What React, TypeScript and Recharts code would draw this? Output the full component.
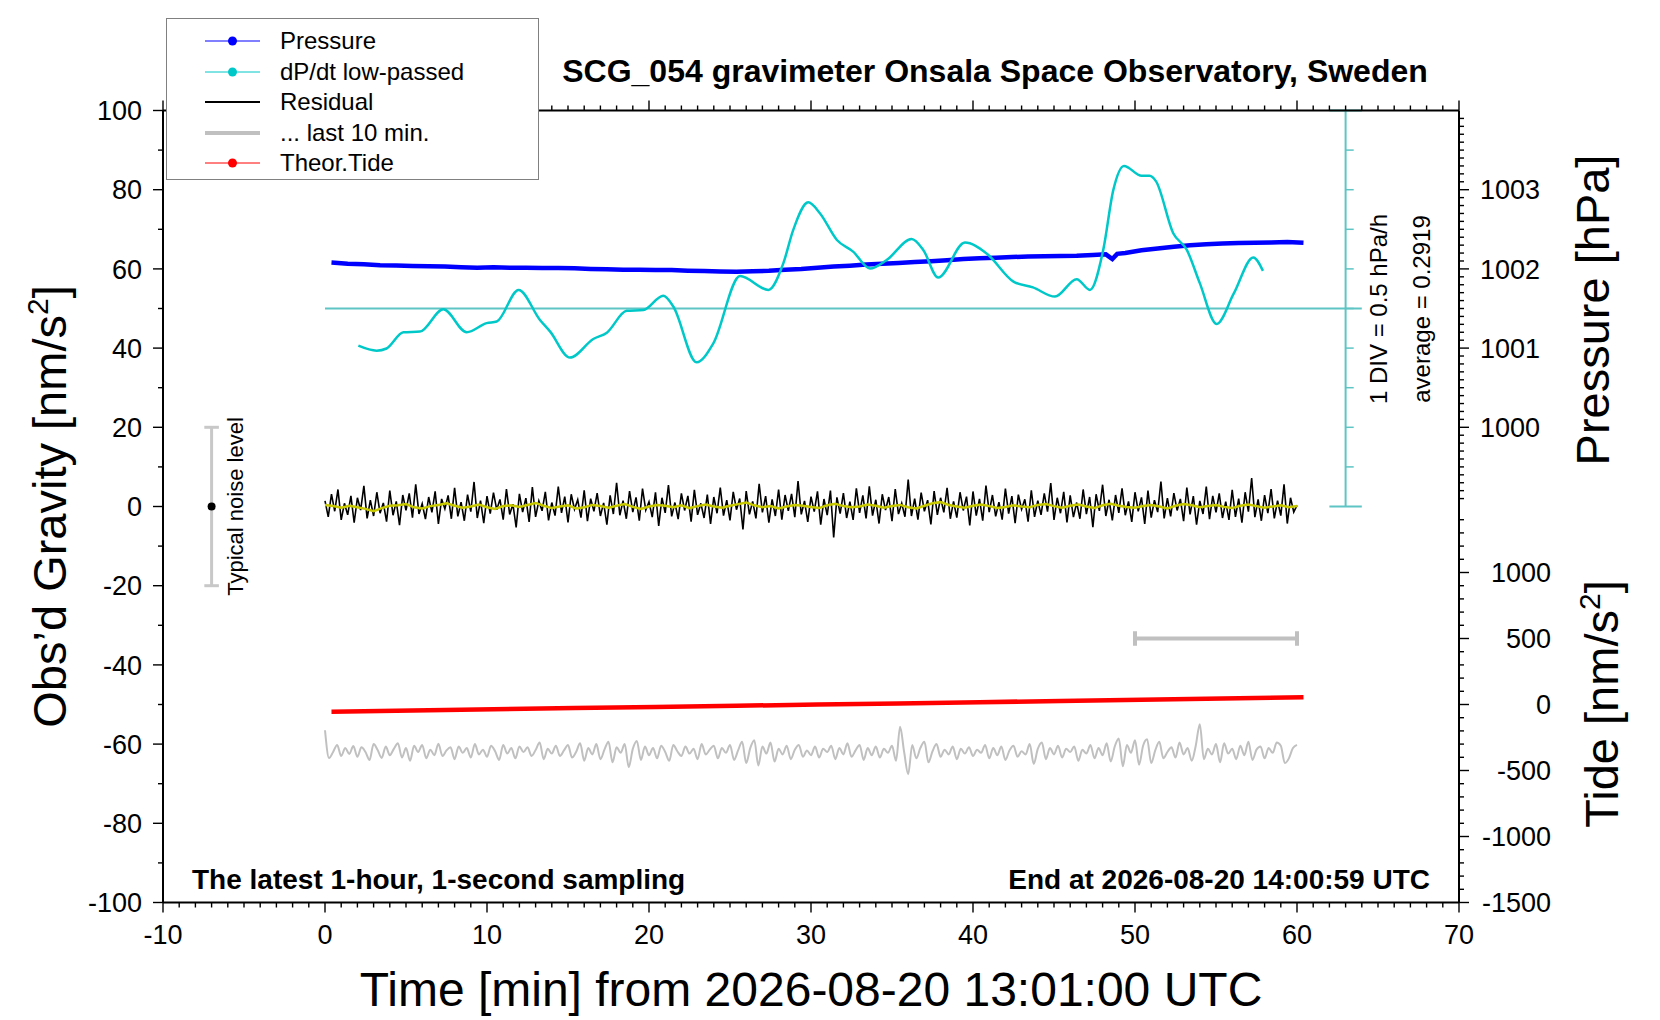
import { ComposedChart, Line, XAxis, YAxis, ReferenceLine, ReferenceDot, Legend } from "recharts";

const FONT = '"Liberation Sans", Arial, Helvetica, sans-serif';

// residual, one value every 0.2 min (nm/s^2)
const residualStepMin = 0.2;
const residual = [
  1.4, -2.6, 3.1, -1.2, 4.3, -3.4, 0.8, -2.1, 2.7, -4.1,
  2.2, -0.9, 5.2, -3.0, 1.6, -2.4, 3.6, -1.7, 0.9, -3.8,
  4.0, -2.2, 1.3, -4.7, 2.9, -1.0, 3.3, -2.8, 5.6, -1.9,
  0.7, -3.2, 2.4, -1.5, 3.8, -4.4, 1.9, -0.6, 2.8, -3.1,
  4.7, -2.5, 1.1, -3.6, 3.0, -1.3, 6.2, -2.9, 1.5, -4.2,
  2.6, -1.8, 3.5, -0.8, 1.8, -3.3, 4.4, -2.0, 0.6, -5.3,
  3.2, -1.4, 2.1, -3.9, 4.9, -2.6, 1.4, -1.1, 3.7, -3.5,
  1.0, -2.3, 5.0, -1.6, 2.5, -4.0, 3.1, -0.7, 1.7, -2.8,
  4.1, -3.7, 2.0, -1.2, 3.4, -2.4, 0.9, -4.6, 2.8, -1.9,
  6.0, -2.2, 1.5, -3.1, 3.9, -1.4, 2.3, -3.6, 4.5, -0.9,
  1.2, -2.7, 3.6, -4.9, 2.2, -1.6, 5.4, -2.5, 1.0, -3.2,
  3.3, -1.0, 2.7, -3.8, 4.2, -2.1, 0.8, -2.9, 3.0, -4.4,
  2.4, -1.7, 4.8, -2.3, 1.6, -3.5, 3.7, -0.8, 2.0, -5.8,
  3.9, -2.0, 1.3, -3.0, 5.7, -1.5, 2.6, -4.1, 1.8, -2.4,
  4.3, -3.3, 2.9, -1.1, 3.2, -2.7, 6.4, -2.0, 1.4, -3.9,
  2.5, -1.3, 3.8, -4.6, 1.9, -2.2, 4.0, -7.8, 2.3, -1.8,
  3.4, -2.9, 1.2, -3.4, 4.6, -1.6, 2.8, -3.0, 5.1, -2.3,
  1.7, -4.3, 3.1, -0.9, 2.4, -3.7, 4.4, -1.9, 0.8, -2.6,
  6.8, -2.4, 2.0, -3.3, 3.5, -1.2, 1.6, -4.5, 3.9, -2.1,
  2.2, -1.5, 4.7, -3.1, 1.3, -2.8, 3.6, -1.0, 2.5, -4.8,
  3.8, -2.3, 1.9, -3.6, 5.3, -1.4, 2.9, -2.5, 1.1, -3.3,
  4.5, -1.8, 2.6, -4.2, 3.0, -0.7, 1.8, -3.8, 4.1, -2.6,
  1.5, -2.1, 3.3, -1.3, 5.9, -3.4, 2.2, -1.7, 3.7, -4.0,
  2.8, -2.7, 1.0, -3.1, 4.3, -1.9, 2.4, -5.2, 3.1, -1.1,
  5.5, -2.4, 1.7, -3.5, 2.9, -1.6, 4.6, -2.2, 1.3, -3.9,
  3.6, -1.2, 2.3, -4.4, 4.0, -2.8, 1.6, -1.4, 6.3, -3.0,
  2.1, -2.5, 3.4, -1.0, 1.9, -3.7, 4.8, -2.0, 2.6, -4.6,
  1.4, -1.9, 5.0, -3.2, 2.7, -1.5, 3.3, -2.9, 1.2, -3.4,
  4.2, -2.6, 2.0, -4.1, 3.6, -1.3, 7.2, -2.7, 1.8, -3.6,
  2.9, -1.7, 4.4, -3.0, 1.5, -2.3, 5.6, -4.3, 2.2, -1.4,
  0.3,
];

// smoothed residual (yellow), every 0.5 min
const smoothStepMin = 0.5;
const residualSmooth = [
  0.4, 0.1, -0.3, 0.2, -0.2, -0.6, -1.2, -0.4, 0.2, 0.3,
  0.6, -0.2, -0.5, 0.1, 0.4, 0.8, 0.2, -0.3, 0.0, 0.5,
  -0.2, -0.6, 0.1, 0.3, -0.1, 0.4, 0.9, 0.2, -0.4, 0.0,
  0.3, -0.5, -0.2, 0.4, 0.1, -0.3, 0.2, 0.6, -0.1, -0.6,
  0.0, 0.4, 0.2, -0.2, 0.3, -0.4, 0.1, 0.5, 0.0, -0.3,
  0.2, 0.6, 1.0, 0.3, -0.2, 0.1, -0.5, 0.0, 0.4, 0.2,
  -0.1, -0.4, 0.3, 0.7, 0.1, -0.2, 0.0, 0.5, 0.2, -0.3,
  0.1, 0.4, -0.2, -0.5, 0.2, 0.8, 1.1, 0.4, 0.0, -0.3,
  0.2, 0.5, 0.1, -0.4, -0.1, 0.3, 0.0, -0.2, 0.4, 0.6,
  0.1, -0.3, 0.2, 0.5, 0.0, -0.4, 0.3, 0.7, 0.2, -0.1,
  -0.3, 0.1, 0.4, 0.0, -0.5, 0.2, 0.6, 0.3, -0.2, 0.1,
  0.4, -0.1, -0.4, 0.2, 0.5, 0.1, -0.3, 0.0, 0.3, -0.2,
  0.1,
];

// "... last 10 min." trace, every 0.25 min, drawn at -60 nm/s^2
const lastTenStepMin = 0.25;
const lastTen = [
  -56.5, -63.5, -62.0, -60.2, -63.0, -61.0, -62.5, -60.5, -63.2, -60.8, -62.0, -64.0, -60.0, -61.5, -63.5, -60.6, -62.8, -61.2, -59.8, -63.4,
  -61.0, -64.2, -60.4, -62.0, -60.2, -63.6, -61.4, -62.8, -59.9, -63.0, -61.6, -60.8, -63.8, -60.6, -62.2, -61.0, -63.4, -60.0, -62.6, -61.4,
  -63.2, -60.4, -61.8, -64.0, -60.2, -62.4, -61.0, -63.6, -60.6, -62.0, -60.8, -63.0, -61.5, -59.6, -63.8, -61.2, -62.4, -60.4, -63.0, -61.6,
  -60.2, -63.4, -62.0, -59.8, -64.2, -61.0, -62.6, -60.0, -63.8, -61.4, -59.4, -64.6, -60.8, -62.2, -60.0, -65.8, -61.2, -59.2, -64.0, -60.6,
  -62.8, -61.0, -63.6, -60.4, -62.0, -64.2, -60.2, -61.8, -63.0, -60.6, -62.4, -61.2, -63.8, -60.0, -62.6, -61.4, -60.4, -63.6, -61.0, -62.2,
  -60.2, -64.0, -61.6, -59.4, -64.8, -61.0, -59.0, -65.4, -60.6, -62.4, -59.6, -64.4, -61.2, -62.6, -60.4, -63.8, -61.4, -60.2, -63.2, -61.6,
  -62.8, -60.6, -63.4, -61.2, -62.0, -60.4, -63.8, -61.0, -62.6, -59.8, -63.2, -61.6, -60.2, -64.0, -61.0, -62.8, -60.6, -63.4, -61.2, -62.2,
  -60.4, -64.2, -55.6, -62.0, -67.6, -60.2, -63.6, -61.0, -59.4, -64.6, -61.8, -60.0, -63.2, -61.4, -62.6, -60.6, -63.8, -61.2, -62.4, -60.8,
  -63.0, -61.4, -62.2, -60.2, -63.6, -61.0, -62.8, -60.6, -64.0, -61.6, -60.4, -63.2, -61.8, -62.6, -60.0, -65.0, -61.2, -59.6, -63.8, -61.0,
  -62.6, -60.4, -63.4, -61.2, -62.0, -60.6, -64.2, -61.4, -62.4, -60.2, -63.6, -61.0, -62.8, -59.8, -64.4, -60.6, -58.6, -65.6, -60.2, -62.2,
  -59.0, -65.2, -60.4, -58.8, -64.8, -61.6, -59.4, -63.6, -62.0, -60.8, -63.4, -59.6, -62.6, -61.0, -64.2, -60.4, -55.0, -63.8, -61.2, -62.6,
  -60.0, -64.6, -59.8, -62.4, -61.2, -63.8, -60.4, -62.8, -59.4, -64.0, -61.4, -60.6, -63.6, -61.0, -62.2, -59.6, -60.4, -64.8, -63.6, -61.0,
  -60.2,
];

const pressureMin = [
  0.4, 1.4, 2.4, 3.4, 4.4, 5.4, 6.4, 7.4, 8.4, 9.4, 10.4, 11.4, 12.4, 13.4, 14.4, 15.4,
  16.4, 17.4, 18.4, 19.4, 20.4, 21.4, 22.4, 23.4, 24.4, 25.4, 26.4, 27.4, 28.4, 29.4, 30.4, 31.4,
  32.4, 33.4, 34.4, 35.4, 36.4, 37.4, 38.4, 39.4, 40.4, 41.4, 42.4, 43.4, 44.4, 45.4, 46.4, 47.4,
  48.2, 48.6, 48.9, 49.4, 50.4, 51.4, 52.4, 53.4, 54.4, 55.4, 56.4, 57.4, 58.4, 59.4, 60.4,
];
const pressureHpa = [
  1002.08, 1002.066, 1002.058, 1002.047, 1002.043, 1002.036, 1002.032, 1002.03, 1002.022, 1002.016, 1002.02, 1002.014, 1002.016, 1002.01, 1002.012, 1002.007,
  1002.0, 1001.996, 1001.988, 1001.99, 1001.985, 1001.986, 1001.978, 1001.973, 1001.968, 1001.965, 1001.97, 1001.976, 1001.99, 1002.0, 1002.016, 1002.03,
  1002.041, 1002.055, 1002.064, 1002.075, 1002.086, 1002.096, 1002.11, 1002.124, 1002.134, 1002.141, 1002.15, 1002.155, 1002.16, 1002.163, 1002.166, 1002.176,
  1002.184, 1002.125, 1002.19, 1002.2, 1002.235, 1002.258, 1002.28, 1002.3, 1002.31, 1002.32, 1002.326, 1002.33, 1002.334, 1002.34, 1002.33,
];

// low-passed dP/dt in hPa/h
const dpdtMin = [
  2.06, 3.19, 3.8, 4.84, 5.86, 7.3, 8.75, 9.98, 10.6, 11.95, 13.27, 13.9, 15.12, 16.56, 17.4, 18.62, 19.65, 20.88,
  21.5, 22.94, 23.97, 25.62, 27.37, 28.29, 28.9, 29.83, 30.56, 31.6, 32.6, 33.64, 34.67, 36.21, 36.93, 37.85, 39.5, 40.84,
  42.5, 43.7, 45.06, 46.4, 47.22, 48.04, 48.66, 49.32, 50.41, 50.9, 51.3, 52.36, 53.2, 54.0, 55.04, 56.1, 57.3, 57.9,
];
const dpdtHpaH = [
  -0.178, -0.241, -0.213, -0.008, 0.0, 0.282, -0.008, 0.107, 0.127, 0.527, 0.147, 0.0, -0.328, -0.093, -0.013, 0.262, 0.272, 0.452,
  0.317, -0.388, -0.148, 0.702, 0.527, 0.862, 1.282, 1.632, 1.492, 1.157, 1.01, 0.797, 0.904, 1.169, 1.032, 0.682, 1.124, 0.987,
  0.632, 0.559, 0.442, 0.662, 0.527, 1.032, 1.787, 2.092, 1.967, 1.967, 1.897, 1.242, 1.032, 0.612, 0.097, 0.482, 0.937, 0.767,
];
const DPDT_AVG = 0.2919;
const DPDT_DIV = 0.5;
const DPDT_AXIS_AT = 63;

const tideMin = [0.4, 5.4, 10.4, 15.4, 20.4, 25.4, 30.4, 35.4, 40.4, 45.4, 50.4, 55.4, 60.4];
const tideNms2 = [-54, -45, -36, -27, -18.5, -9.5, -0.5, 8.5, 17.5, 26.5, 35.5, 45, 54];

const noiseAt = -7;
const noiseLevel = 20;
const lastTenBar = [50, 60];
const lastTenBarLevel = 500;

const xLabels = [-10, 0, 10, 20, 30, 40, 50, 60, 70];
const gravityLabels = [-100, -80, -60, -40, -20, 0, 20, 40, 60, 80, 100];
const pressureLabels = [1000, 1001, 1002, 1003];
const tideLabels = [-1500, -1000, -500, 0, 500, 1000];

const legendItems = [
  { name: "Pressure", color: "#0000ff", kind: "dot" },
  { name: "dP/dt low-passed", color: "#00c8c8", kind: "dot" },
  { name: "Residual", color: "#000000", kind: "line" },
  { name: "... last 10 min.", color: "#c0c0c0", kind: "thick" },
  { name: "Theor.Tide", color: "#ff0000", kind: "dot" },
];

const xTicks = Array.from({ length: 81 }, (_, i) => i - 10);
const gravityTicks = Array.from({ length: 21 }, (_, i) => -100 + i * 10);
const pressureTicks = Array.from({ length: 49 }, (_, i) => Math.round((999.1 + i * 0.1) * 10) / 10);
const tideTicks = Array.from({ length: 30 }, (_, i) => -1500 + i * 100);
const dpdtTicks = [-4, -3, -2, -1, 0, 1, 2, 3, 4].map((k) => DPDT_AVG + k * DPDT_DIV);
const dpdtLow = DPDT_AVG - 5 * DPDT_DIV;
const dpdtHigh = DPDT_AVG + 5 * DPDT_DIV;

const residualData = residual.map((v, i) => ({ t: i * residualStepMin, v }));
const smoothData = residualSmooth.map((v, i) => ({ t: i * smoothStepMin, v }));
const lastTenData = lastTen.map((v, i) => ({ t: i * lastTenStepMin, v }));
const pressureData = pressureMin.map((t, i) => ({ t, v: pressureHpa[i] }));
const dpdtData = dpdtMin.map((t, i) => ({ t, v: dpdtHpaH[i] }));
const tideData = tideMin.map((t, i) => ({ t, v: tideNms2[i] }));

const near = (a: number, b: number) => Math.abs(a - b) < 1e-6;

function BottomTick({ x, y, payload }: any) {
  const v = payload.value;
  const major = xLabels.some((l) => near(l, v));
  return (
    <g>
      <line x1={x} x2={x} y1={y} y2={y + (major ? 10 : 5)} stroke="#000" strokeWidth={1.4} />
      {major && (
        <text x={x} y={y + 41} textAnchor="middle" fontSize={27} fontFamily={FONT} fill="#000">
          {v}
        </text>
      )}
    </g>
  );
}

function TopTick({ x, y, payload }: any) {
  const major = xLabels.some((l) => near(l, payload.value));
  return <line x1={x} x2={x} y1={y} y2={y - (major ? 10 : 5)} stroke="#000" strokeWidth={1.4} />;
}

function LeftTick({ x, y, payload }: any) {
  const v = payload.value;
  const major = gravityLabels.some((l) => near(l, v));
  return (
    <g>
      <line x1={x - (major ? 10 : 5)} x2={x} y1={y} y2={y} stroke="#000" strokeWidth={1.4} />
      {major && (
        <text x={x - 21} y={y + 9.7} textAnchor="end" fontSize={27} fontFamily={FONT} fill="#000">
          {v}
        </text>
      )}
    </g>
  );
}

function PressureTick({ x, y, payload }: any) {
  const v = payload.value;
  const major = pressureLabels.some((l) => near(l, v));
  return (
    <g>
      <line x1={x} x2={x + (major ? 10 : 5)} y1={y} y2={y} stroke="#000" strokeWidth={1.4} />
      {major && (
        <text x={x + 21} y={y + 9.7} textAnchor="start" fontSize={27} fontFamily={FONT} fill="#000">
          {v}
        </text>
      )}
    </g>
  );
}

function TideTick({ x, y, payload }: any) {
  const v = payload.value;
  const major = tideLabels.some((l) => near(l, v));
  return (
    <g>
      <line x1={x - 1} x2={x - 1 + (major ? 10 : 5)} y1={y} y2={y} stroke="#000" strokeWidth={1.4} />
      {major && (
        <text x={x + 91} y={y + 9.7} textAnchor="end" fontSize={27} fontFamily={FONT} fill="#000">
          {v}
        </text>
      )}
    </g>
  );
}

function LegendBox() {
  return (
    <div
      style={{
        position: "relative",
        width: 373,
        height: 162,
        boxSizing: "border-box",
        border: "1px solid #808080",
        background: "#fff",
        fontFamily: FONT,
        color: "#000",
      }}
    >
      {legendItems.map((it, i) => {
        const cy = 22.2 + i * 30.45;
        const w = it.kind === "thick" ? 4 : it.kind === "line" ? 2 : 1;
        return (
          <div key={it.name} style={{ position: "absolute", left: 0, top: cy - 15, height: 30, width: "100%" }}>
            <svg width={100} height={30} style={{ position: "absolute", left: 0, top: 0 }}>
              <line x1={38} x2={93} y1={15} y2={15} stroke={it.color} strokeWidth={w} />
              {it.kind === "dot" && <circle cx={65.5} cy={15} r={4.5} fill={it.color} />}
            </svg>
            <span style={{ position: "absolute", left: 113, top: 0, lineHeight: "30px", fontSize: 24, whiteSpace: "nowrap" }}>
              {it.name}
            </span>
          </div>
        );
      })}
    </div>
  );
}

const CYAN_AXIS = "#5ec4c4";

export default function App() {
  return (
    <div style={{ position: "absolute", left: 0, top: 0, width: 1660, height: 1020, background: "#fff" }}>
      <ComposedChart width={1660} height={1020} margin={{ top: 109.5, right: 199, bottom: 116.5, left: 162 }}>
        <XAxis
          type="number"
          dataKey="t"
          domain={[-10, 70]}
          allowDataOverflow
          ticks={xTicks}
          interval={0}
          height={1}
          tickSize={0}
          tickMargin={0}
          tickLine={false}
          tick={BottomTick}
          axisLine={{ stroke: "#000", strokeWidth: 2 }}
        />
        <XAxis
          xAxisId="top"
          orientation="top"
          type="number"
          dataKey="t"
          domain={[-10, 70]}
          allowDataOverflow
          ticks={xTicks}
          interval={0}
          height={1}
          tickSize={0}
          tickMargin={0}
          tickLine={false}
          tick={TopTick}
          axisLine={{ stroke: "#000", strokeWidth: 2 }}
        />
        <YAxis
          type="number"
          domain={[-100, 100]}
          allowDataOverflow
          ticks={gravityTicks}
          interval={0}
          width={1}
          tickSize={0}
          tickMargin={0}
          tickLine={false}
          tick={LeftTick}
          axisLine={{ stroke: "#000", strokeWidth: 2 }}
        />
        <YAxis
          yAxisId="p"
          orientation="right"
          type="number"
          domain={[994, 1004]}
          allowDataOverflow
          ticks={pressureTicks}
          interval={0}
          width={1}
          tickSize={0}
          tickMargin={0}
          tickLine={false}
          tick={PressureTick}
          axisLine={{ stroke: "#000", strokeWidth: 2 }}
        />
        <YAxis
          yAxisId="tide"
          orientation="right"
          type="number"
          domain={[-1500, 4500]}
          allowDataOverflow
          ticks={tideTicks}
          interval={0}
          width={1}
          tickSize={0}
          tickMargin={0}
          tickLine={false}
          tick={TideTick}
          axisLine={false}
        />
        <YAxis
          yAxisId="dpdt"
          hide
          type="number"
          domain={[DPDT_AVG - 15 * DPDT_DIV, DPDT_AVG + 5 * DPDT_DIV]}
          allowDataOverflow
          width={0}
        />

        {/* dP/dt reference axis */}
        <ReferenceLine
          yAxisId="dpdt"
          ifOverflow="visible"
          segment={[{ x: 0, y: DPDT_AVG }, { x: DPDT_AXIS_AT + 1, y: DPDT_AVG }]}
          stroke={CYAN_AXIS}
          strokeWidth={2}
        />
        <ReferenceLine
          yAxisId="dpdt"
          ifOverflow="visible"
          segment={[{ x: DPDT_AXIS_AT, y: dpdtLow }, { x: DPDT_AXIS_AT, y: dpdtHigh }]}
          stroke={CYAN_AXIS}
          strokeWidth={2}
        />
        {[dpdtLow, dpdtHigh].map((y) => (
          <ReferenceLine
            key={"cap" + y}
            yAxisId="dpdt"
            ifOverflow="visible"
            segment={[{ x: DPDT_AXIS_AT - 1, y }, { x: DPDT_AXIS_AT + 1, y }]}
            stroke={CYAN_AXIS}
            strokeWidth={2}
          />
        ))}
        {dpdtTicks.map((y) => (
          <ReferenceLine
            key={"tk" + y}
            yAxisId="dpdt"
            ifOverflow="visible"
            segment={[{ x: DPDT_AXIS_AT, y }, { x: DPDT_AXIS_AT + 0.5, y }]}
            stroke={CYAN_AXIS}
            strokeWidth={1.5}
          />
        ))}

        {/* typical noise level */}
        <ReferenceLine
          ifOverflow="visible"
          segment={[{ x: noiseAt, y: -noiseLevel }, { x: noiseAt, y: noiseLevel }]}
          stroke="#c8c8c8"
          strokeWidth={3}
        />
        {[-noiseLevel, noiseLevel].map((y) => (
          <ReferenceLine
            key={"nz" + y}
            ifOverflow="visible"
            segment={[{ x: noiseAt - 0.45, y }, { x: noiseAt + 0.45, y }]}
            stroke="#c8c8c8"
            strokeWidth={3}
          />
        ))}
        <ReferenceDot x={noiseAt} y={0} r={4} fill="#000" stroke="none" ifOverflow="visible" />

        {/* last 10 min span */}
        <ReferenceLine
          yAxisId="tide"
          ifOverflow="visible"
          segment={[{ x: lastTenBar[0], y: lastTenBarLevel }, { x: lastTenBar[1], y: lastTenBarLevel }]}
          stroke="#c0c0c0"
          strokeWidth={4}
        />
        {lastTenBar.map((x) => (
          <ReferenceLine
            key={"lt" + x}
            yAxisId="tide"
            ifOverflow="visible"
            segment={[{ x, y: lastTenBarLevel - 55 }, { x, y: lastTenBarLevel + 55 }]}
            stroke="#c0c0c0"
            strokeWidth={4}
          />
        ))}

        <Line data={residualData} dataKey="v" name="Residual" type="linear" stroke="#000" strokeWidth={1.6} dot={false} isAnimationActive={false} />
        <Line data={smoothData} dataKey="v" name="smoothed" type="linear" stroke="#c8c800" strokeWidth={2.5} dot={false} isAnimationActive={false} legendType="none" />
        <Line data={lastTenData} dataKey="v" name="... last 10 min." type="monotone" stroke="#c0c0c0" strokeWidth={2} dot={false} isAnimationActive={false} />
        <Line data={tideData} dataKey="v" yAxisId="tide" name="Theor.Tide" type="linear" stroke="#ff0000" strokeWidth={4.5} dot={false} isAnimationActive={false} />
        <Line data={pressureData} dataKey="v" yAxisId="p" name="Pressure" type="linear" stroke="#0000ff" strokeWidth={4.5} dot={false} isAnimationActive={false} />
        <Line data={dpdtData} dataKey="v" yAxisId="dpdt" name="dP/dt low-passed" type="monotone" stroke="#00c8c8" strokeWidth={2.5} dot={false} isAnimationActive={false} />

        <Legend
          layout="vertical"
          align="center"
          verticalAlign="middle"
          wrapperStyle={{ left: 166, top: 18, width: 373, height: 162 }}
          content={() => <LegendBox />}
        />
      </ComposedChart>

      <svg
        width={1660}
        height={1020}
        style={{ position: "absolute", left: 0, top: 0, pointerEvents: "none" }}
        fontFamily={FONT}
        fill="#000"
      >
        <text x={995} y={82} textAnchor="middle" fontSize={32} fontWeight="bold">
          SCG_054 gravimeter Onsala Space Observatory, Sweden
        </text>
        <text x={192} y={889} fontSize={28} fontWeight="bold">
          The latest 1-hour, 1-second sampling
        </text>
        <text x={1430} y={889} textAnchor="end" fontSize={28} fontWeight="bold">
          End at 2026-08-20 14:00:59 UTC
        </text>
        <text x={811} y={1006} textAnchor="middle" fontSize={48}>
          Time [min] from 2026-08-20 13:01:00 UTC
        </text>
        <text transform="translate(66,506.5) rotate(-90)" textAnchor="middle" fontSize={47}>
          Obs’d Gravity [nm/s<tspan dy={-18} fontSize={30}>2</tspan>
          <tspan dy={18}>]</tspan>
        </text>
        <text transform="translate(1609,310) rotate(-90)" textAnchor="middle" fontSize={47}>
          Pressure [hPa]
        </text>
        <text transform="translate(1618,704) rotate(-90)" textAnchor="middle" fontSize={47}>
          Tide [nm/s<tspan dy={-18} fontSize={30}>2</tspan>
          <tspan dy={18}>]</tspan>
        </text>
        <text transform="translate(1387,309) rotate(-90)" textAnchor="middle" fontSize={24}>
          1 DIV = 0.5 hPa/h
        </text>
        <text transform="translate(1430,309) rotate(-90)" textAnchor="middle" fontSize={24}>
          average = 0.2919
        </text>
        <text transform="translate(243,506.5) rotate(-90)" textAnchor="middle" fontSize={22}>
          Typical noise level
        </text>
      </svg>
    </div>
  );
}
